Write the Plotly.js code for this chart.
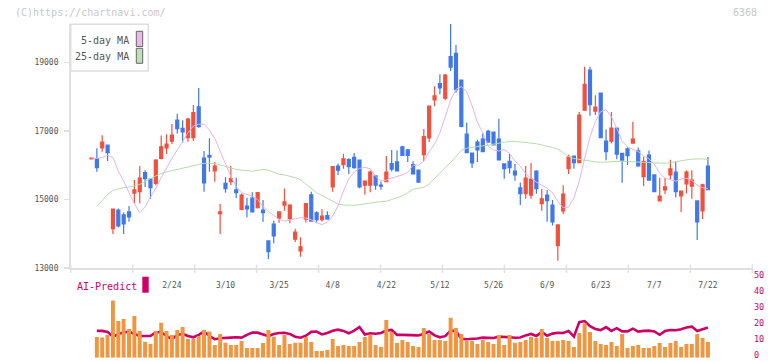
<!DOCTYPE html>
<html>
<head>
<meta charset="utf-8">
<script src="https://cdn.plot.ly/plotly-3.0.1.min.js"></script>
<style>
  html, body { margin: 0; padding: 0; background: #fff; }
  #chart { width: 772px; height: 361px; }
</style>
</head>
<body>
<div id="chart"></div>
<script>
// Trading days shown on the chart
const dates = ['2/1','2/2','2/3','2/4','2/7','2/8','2/9','2/10','2/14','2/15','2/16','2/17','2/18','2/21','2/22','2/24','2/25','2/28',
  '3/1','3/2','3/3','3/4','3/7','3/8','3/9','3/10','3/11','3/14','3/15','3/16','3/17','3/18','3/22','3/23','3/24','3/25','3/28','3/29','3/30','3/31',
  '4/1','4/4','4/5','4/6','4/7','4/8','4/11','4/12','4/13','4/14','4/15','4/18','4/19','4/20','4/21','4/22','4/25','4/26','4/27','4/28',
  '5/2','5/6','5/9','5/10','5/11','5/12','5/13','5/16','5/17','5/18','5/19','5/20','5/23','5/24','5/25','5/26','5/27','5/30','5/31',
  '6/1','6/2','6/3','6/6','6/7','6/8','6/9','6/10','6/13','6/14','6/15','6/16','6/17','6/20','6/21','6/22','6/23','6/24','6/27','6/28','6/29','6/30',
  '7/1','7/4','7/5','7/6','7/7','7/8','7/11','7/12','7/13','7/14','7/15','7/19','7/20','7/21','7/22'];

// Date labels on the time axis
const tickDates = ['2/24','3/10','3/25','4/8','4/22','5/12','5/26','6/9','6/23','7/7','7/22'];

// Price axis and score axis labels
const priceTicks = [13000, 15000, 17000, 19000];
const scoreTicks = [0, 10, 20, 30, 40, 50];

// Daily prices
const openP = [16190,16200,16510,16590,14150,14690,14550,14640,15190,15230,
  15790,15600,15470,16200,16510,16710,17320,17080,16810,16810,
  17710,16210,16290,15840,14590,15470,15520,15280,14710,14810,
  15040,14760,14690,13790,14280,14460,14840,14440,13840,13500,
  14430,15140,14610,14410,14530,15370,15980,16020,16170,16230,
  16150,15420,15420,15690,15420,15520,16050,16100,16540,16450,
  16020,15860,16310,16800,17910,18390,17960,19180,19270,18490,
  16910,16360,16680,16770,16990,16970,16770,16040,16120,15830,
  15340,15170,15130,15830,14880,15130,14840,13650,14670,15900,
  16270,16080,17610,18780,17580,18110,16710,16710,17090,16350,
  16480,16650,16420,15670,16300,15720,14960,15280,15720,15800,
  15110,15460,15390,14960,14670,15980];
const highP = [16220,16500,16880,16600,14720,14740,14620,14810,15570,15980,
  15860,15630,16180,16870,16910,17210,17510,17320,17390,17760,
  18260,16420,16790,16100,14870,15650,15980,15640,15180,15050,
  15210,15220,14990,13800,14390,14650,15320,14860,14150,13900,
  14890,15230,14660,14720,14660,15970,16050,16340,16210,16360,
  16170,15560,15850,15700,15530,16270,16450,16430,16570,16480,
  16120,15880,17060,17750,18310,18660,18670,20130,19520,18500,
  17250,16370,16750,16940,17040,16990,17360,16050,16330,16040,
  15500,15980,16070,15860,15310,15280,14990,14270,15420,16310,
  16290,17560,18880,18880,18050,18120,17050,17560,17100,16360,
  16520,17270,16520,16250,16430,15730,15640,15640,16160,16100,
  15260,15860,15860,14970,15460,16240];
const lowP = [16180,15810,16400,16130,13990,14180,13990,14350,14890,14890,
  15370,15020,15420,16170,16330,16620,16930,16660,16690,16710,
  17100,15230,15810,15520,13990,15200,15420,15040,14690,14480,
  14620,14740,14350,13260,13720,14320,14670,14310,13760,13330,
  14330,14360,14340,14360,14420,15230,15720,15900,15750,15900,
  15330,15140,15210,15290,15290,15510,15820,15820,16270,16100,
  15730,15490,16130,16680,17730,18080,17900,18760,18120,17110,
  16350,15920,16100,16380,16660,16580,16150,15610,15760,15550,
  14840,15020,15020,15170,14670,14350,14240,13210,14580,15750,
  15900,16060,17600,17450,17470,16790,16150,16640,16180,15490,
  16010,16640,15960,15390,15550,15210,14940,15160,15600,15060,
  14640,15180,15020,13820,14430,15270];
const closeP = [16210,15930,16680,16370,14720,14230,14290,14490,15280,15630,
  15610,15350,16150,16540,16620,16880,17070,16980,17350,17540,
  17130,15490,16240,15980,14640,15320,15610,15200,15130,14730,
  14640,15200,14620,13480,13940,14640,14930,14840,14050,13620,
  14880,14370,14410,14520,14430,15960,15860,16190,15960,15930,
  15370,15540,15800,15420,15390,15800,15890,15840,16290,16290,
  15750,15510,16840,17730,18030,18260,18640,18870,18210,17140,
  16370,16070,16450,16400,16680,16600,16160,15900,15930,15720,
  15170,15630,15600,15320,15020,14970,14350,14260,15160,16240,
  16080,17470,18370,17770,17700,16810,16400,17090,16330,16150,
  16280,16770,15980,16120,15570,15230,15100,15370,15900,15230,
  15250,15800,15570,14350,15430,15290];

// Moving averages
const ma5 = [16180,16200,16230,16290,16230,15830,15540,15200,14880,14620,
  14780,15070,15330,15640,15940,16200,16450,16700,16950,17150,
  17200,17200,17030,16790,16400,16010,15670,15380,15200,15150,
  15100,15000,14800,14650,14530,14420,14370,14400,14440,14470,
  14460,14410,14320,14270,14340,14520,14820,15250,15600,15800,
  15910,15940,15900,15680,15540,15570,15630,15670,15720,15800,
  16000,16010,16120,16400,16620,16950,17400,17900,18220,18300,
  18150,17740,17250,16960,16560,16450,16420,16460,16350,16130,
  15980,15750,15630,15510,15420,15330,15200,14950,14760,14780,
  15050,15540,16200,16820,17280,17570,17630,17420,17080,16700,
  16540,16470,16400,16280,16190,16030,15770,15620,15580,15540,
  15600,15620,15560,15420,15350,15320];
const ma25 = [null,14800,14960,15150,15270,15320,15350,15370,15400,15440,
  15530,15620,15690,15760,15810,15850,15880,15920,15950,16000,
  16040,16060,16060,16050,16010,15960,15920,15880,15860,15840,
  15830,15850,15880,15860,15800,15740,15720,15690,15640,15580,
  15450,15340,15200,15120,15030,14950,14870,14840,14830,14830,
  14850,14880,14900,14920,14940,14950,15000,15060,15110,15200,
  15300,15330,15360,15450,15620,15780,15940,16080,16250,16440,
  16500,16530,16560,16570,16590,16620,16660,16690,16700,16700,
  16690,16670,16650,16630,16600,16560,16520,16480,16360,16260,
  16200,16170,16140,16110,16100,16090,16100,16120,16120,16120,
  16110,16100,16090,16080,16070,16060,16060,16060,16080,16110,
  16150,16160,16180,16190,16190,16170];

// Trading volume (relative units) and AI-Predict score (0-50)
const volume = [null,13.0,12.6,14.3,35.9,23.0,24.3,18.0,26.2,16.8,10.0,
  8.6,16.8,22.0,16.8,14.3,17.4,19.3,11.8,11.8,13.6,
  17.4,16.4,8.0,14.9,9.4,8.0,8.0,10.5,6.1,6.1,
  6.1,9.2,17.4,13.2,8.0,14.3,8.6,9.4,9.4,13.0,
  9.9,4.2,4.2,4.8,11.8,7.4,8.0,7.4,7.4,9.9,
  13.0,14.5,8.0,6.7,23.7,16.2,9.2,11.1,9.9,7.4,
  6.7,18.7,14.9,11.1,11.1,10.5,25.0,18.7,14.9,10.5,
  10.5,8.6,11.1,9.9,8.6,14.3,8.0,14.3,9.4,9.9,
  11.1,13.0,12.4,18.0,12.4,10.5,10.5,11.1,10.5,6.7,
  15.5,21.6,16.2,10.5,8.6,8.0,9.9,7.4,14.9,6.1,
  7.4,8.0,6.1,6.1,7.4,9.2,6.7,9.2,10.5,6.7,
  8.6,8.6,14.9,12.4,9.9];
const aiPredict = [null,16.8,16.8,16.2,13.2,14.8,16.0,16.2,14.8,13.6,13.6,
  13.6,16.0,16.0,13.6,11.6,14.3,14.9,13.6,12.8,14.3,
  16.4,13.6,11.6,12.2,12.2,12.6,12.8,12.6,14.3,15.7,
  15.7,14.5,13.5,14.9,15.5,15.6,14.9,13.2,12.5,13.8,
  16.2,16.4,14.6,15.5,16.9,17.6,16.8,15.3,17.0,19.3,
  14.5,15.3,15.0,15.5,17.0,17.4,14.3,14.3,14.3,13.9,
  14.0,15.0,16.4,14.0,12.8,13.5,17.0,16.8,11.8,11.6,
  11.6,12.0,12.6,12.4,12.4,13.2,13.2,12.8,12.5,12.7,
  14.0,14.9,13.6,16.2,13.8,15.1,15.6,15.5,16.8,13.2,
  22.3,23.0,19.8,18.0,17.3,19.2,16.8,18.5,16.5,16.5,
  18.2,16.4,16.8,17.0,16.5,14.4,16.7,17.4,17.2,17.8,
  18.9,19.5,16.7,17.8,18.9];

// ---- drawing ----
const W = 772, H = 361;
const fx = p => p / W;          // pixel x -> paper
const fy = p => 1 - p / H;      // pixel y -> paper
const plotL = 70.7, plotR = 752.3;
const mono = 'DejaVu Sans Mono, monospace';
const RED = '#f0503c', BLUE = '#4078e8', AI = '#cc0066';

const traces = [
  { type: 'scatter', mode: 'lines', x: dates, y: ma25, xaxis: 'x', yaxis: 'y',
    line: { color: '#b4dcaa', width: 1 }, hoverinfo: 'skip', showlegend: false },
  { type: 'scatter', mode: 'lines', x: dates, y: ma5, xaxis: 'x', yaxis: 'y',
    line: { color: '#e6b2e6', width: 1 }, hoverinfo: 'skip', showlegend: false },
  { type: 'candlestick', x: dates, open: openP, high: highP, low: lowP, close: closeP,
    xaxis: 'x', yaxis: 'y', whiskerwidth: 0,
    increasing: { line: { color: RED, width: 1.2 }, fillcolor: RED },
    decreasing: { line: { color: BLUE, width: 1.2 }, fillcolor: BLUE },
    hoverinfo: 'skip', showlegend: false },
  { type: 'bar', x: dates, y: volume, xaxis: 'x', yaxis: 'y3',
    marker: { color: '#f09640' }, hoverinfo: 'skip', showlegend: false },
  { type: 'scatter', mode: 'lines', x: dates, y: aiPredict, xaxis: 'x', yaxis: 'y2',
    line: { color: AI, width: 2.6 }, hoverinfo: 'skip', showlegend: false }
];

const shapes = [];
// evenly spaced marks along the time axis
for (let k = 0; k <= 11; k++) {
  const xp = plotL + (plotR - plotL) * k / 11;
  shapes.push({ type: 'line', xref: 'paper', yref: 'paper', x0: fx(xp), x1: fx(xp),
    y0: fy(273), y1: fy(264.5), line: { color: '#e0e0e0', width: 1.5 } });
}
// legend frame and swatches
shapes.push({ type: 'rect', xref: 'paper', yref: 'paper', layer: 'above',
  x0: fx(70.7), x1: fx(148.3), y0: fy(71), y1: fy(24.3),
  fillcolor: '#ffffff', line: { color: '#dedede', width: 1.5 } });
shapes.push({ type: 'rect', xref: 'paper', yref: 'paper', layer: 'above',
  x0: fx(136.3), x1: fx(142.7), y0: fy(46.5), y1: fy(31.3),
  fillcolor: '#ebb8eb', line: { color: '#666', width: 1 } });
shapes.push({ type: 'rect', xref: 'paper', yref: 'paper', layer: 'above',
  x0: fx(136.3), x1: fx(142.7), y0: fy(63.3), y1: fy(48.3),
  fillcolor: '#bfe0b6', line: { color: '#666', width: 1 } });
// AI-Predict marker
shapes.push({ type: 'rect', xref: 'paper', yref: 'paper', layer: 'above',
  x0: fx(142.3), x1: fx(148.7), y0: fy(292.7), y1: fy(276.7),
  fillcolor: AI, line: { width: 0 } });

const ann = (text, x, y, xanchor, size, color) => ({
  text, xref: 'paper', yref: 'paper', x: fx(x), y: fy(y), xanchor, yanchor: 'middle',
  showarrow: false, borderpad: 0, font: { family: mono, size, color } });

const annotations = [
  ann('(C)https://chartnavi.com/', 14, 12.5, 'left', 10, '#c8c8c8'),
  ann('6368', 757.5, 12.5, 'right', 10, '#c8c8c8'),
  ann('5-day MA', 129.5, 40, 'right', 10, '#555'),
  ann('25-day MA', 129.5, 56.7, 'right', 10, '#555'),
  ann('AI-Predict', 75.5, 286, 'left', 10, AI)
];
// score scale on the right of the lower panel, placed on the y2 scale
scoreTicks.forEach(v => annotations.push({
  text: String(v), xref: 'paper', yref: 'y2', x: fx(753), y: v,
  xanchor: 'left', yanchor: 'middle', yshift: 3, showarrow: false, borderpad: 0,
  font: { family: mono, size: 8.5, color: AI }
}));

const layout = {
  width: W, height: H,
  margin: { l: 0, r: 0, t: 0, b: 0, pad: 0 },
  paper_bgcolor: '#fff', plot_bgcolor: '#fff',
  showlegend: false,
  boxgap: 0.2,
  bargap: 0.26,
  xaxis: {
    type: 'category', categoryorder: 'array', categoryarray: dates,
    domain: [fx(plotL), fx(plotR)], range: [-3.88, 123.28], anchor: 'y',
    rangeslider: { visible: false },
    showline: true, linecolor: '#e0e0e0', linewidth: 1.6,
    showgrid: false, zeroline: false, ticks: '',
    tickmode: 'array', tickvals: tickDates, ticktext: tickDates,
    ticklabelstandoff: 9,
    tickfont: { family: mono, size: 8, color: '#555' },
    fixedrange: true
  },
  yaxis: {
    domain: [fy(268), fy(24)], range: [13000, 20130], anchor: 'x',
    showline: true, linecolor: '#e0e0e0', linewidth: 1.6,
    showgrid: false, zeroline: false,
    ticks: 'outside', ticklen: 5, tickwidth: 1.5, tickcolor: '#e0e0e0',
    tickmode: 'array', tickvals: priceTicks, ticktext: priceTicks.map(String),
    ticklabelstandoff: 4,
    tickfont: { family: mono, size: 8, color: '#555' },
    fixedrange: true
  },
  yaxis2: {
    domain: [fy(357.7), fy(278)], range: [0, 50], anchor: 'x', side: 'right',
    showline: false, showgrid: false, zeroline: false, ticks: '',
    showticklabels: false,
    fixedrange: true
  },
  yaxis3: {
    overlaying: 'y2', range: [0, 50], visible: false, fixedrange: true
  },
  shapes, annotations
};

Plotly.newPlot('chart', traces, layout, { displayModeBar: false, staticPlot: true });
</script>
</body>
</html>
